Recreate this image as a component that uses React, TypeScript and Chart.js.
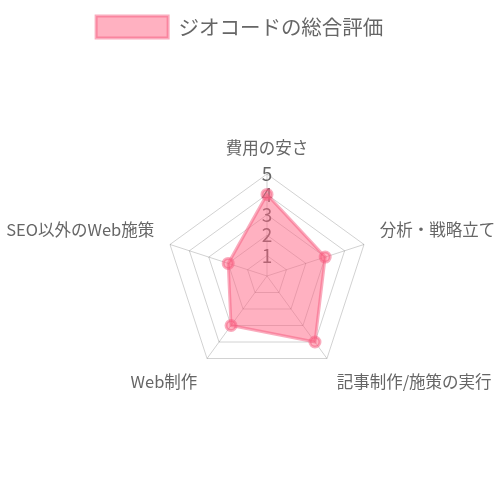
import { useEffect, useRef } from "react"
import { Chart, registerables } from "chart.js"

Chart.register(...registerables)

const categories = ["費用の安さ", "分析・戦略立て", "記事制作/施策の実行", "Web制作", "SEO以外のWeb施策"]
const scores = [4, 3, 4, 3, 2]
const seriesName = "ジオコードの総合評価"

const FONT = "'Noto Sans CJK JP', 'Noto Sans', sans-serif"

export default function App() {
  const chartRef = useRef<HTMLCanvasElement>(null)
  const chartInstance = useRef<Chart | null>(null)

  useEffect(() => {
    if (!chartRef.current) return
    if (chartInstance.current) chartInstance.current.destroy()

    const ctx = chartRef.current.getContext("2d")
    if (!ctx) return

    chartInstance.current = new Chart(ctx, {
      type: "radar",
      data: {
        labels: categories,
        datasets: [
          {
            label: seriesName,
            data: scores,
            backgroundColor: "rgba(255, 99, 132, 0.5)",
            borderColor: "rgba(245, 90, 125, 0.5)",
            borderWidth: 3,
            pointBackgroundColor: "rgba(255, 99, 132, 0.5)",
            pointBorderColor: "rgba(245, 90, 125, 0.5)",
            pointRadius: 5,
          },
        ],
      },
      options: {
        animation: false,
        responsive: true,
        maintainAspectRatio: false,
        layout: { padding: { top: 8, bottom: 20 } },
        plugins: {
          legend: {
            position: "top",
            labels: {
              boxWidth: 72,
              boxHeight: 22,
              padding: 8,
              color: "#666",
              font: { family: FONT, size: 20.5 },
              // trailing ideographic space keeps the legend sitting a little left of centre, as in the original
              generateLabels: (chart) =>
                Chart.defaults.plugins.legend.labels
                  .generateLabels(chart)
                  .map((item) => ({ ...item, text: item.text + "\u3000" })),
            },
          },
          tooltip: { enabled: false },
        },
        scales: {
          r: {
            min: 0,
            max: 5,
            ticks: {
              stepSize: 1,
              showLabelBackdrop: false,
              color: "#666",
              font: { family: FONT, size: 19 },
            },
            grid: { color: "rgba(0, 0, 0, 0.18)" },
            angleLines: { color: "rgba(0, 0, 0, 0.18)" },
            pointLabels: {
              color: "#666",
              font: { family: FONT, size: 16.5 },
            },
          },
        },
      },
    })

    return () => {
      if (chartInstance.current) {
        chartInstance.current.destroy()
        chartInstance.current = null
      }
    }
  }, [])

  return (
    <div style={{ position: "absolute", left: 0, top: 0, width: 500, height: 500, background: "#fff" }}>
      <canvas ref={chartRef} />
    </div>
  )
}
